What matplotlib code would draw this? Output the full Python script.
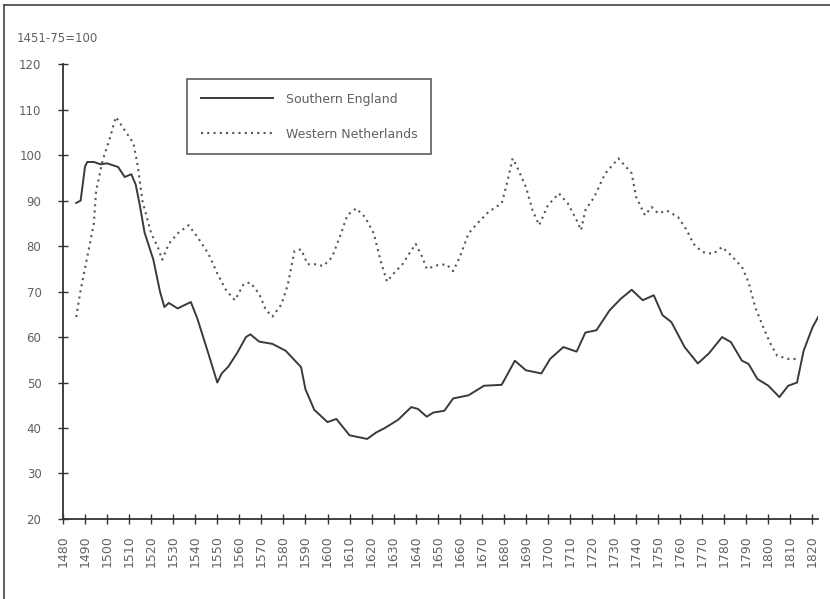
import matplotlib
matplotlib.use('Agg')
import matplotlib.pyplot as plt
from matplotlib.lines import Line2D

plt.rcParams['font.family'] = ['DejaVu Sans']

years_england = [1486, 1488, 1490, 1491, 1494, 1497, 1500, 1505, 1508, 1511,
                 1513, 1515, 1517, 1521, 1524, 1526, 1528, 1532, 1538, 1541,
                 1546, 1550, 1552, 1555, 1559, 1563, 1565, 1569, 1575, 1581,
                 1588, 1590, 1594, 1600, 1604, 1610, 1614, 1618, 1622, 1626,
                 1632, 1638, 1641, 1645, 1648, 1653, 1657, 1660, 1664, 1671,
                 1679, 1685, 1690, 1697, 1701, 1707, 1713, 1717, 1722, 1728,
                 1733, 1738, 1743, 1748, 1752, 1756, 1762, 1768, 1773, 1779,
                 1783, 1788, 1791, 1795, 1800, 1805, 1809, 1813, 1816, 1820,
                 1823]
wage_england = [89.5, 90.0, 97.5, 98.5, 98.5, 98.0, 98.2, 97.4, 95.2, 95.8,
                93.5, 88.6, 83.0, 77.0, 70.0, 66.6, 67.5, 66.3, 67.7, 64.0,
                56.3, 50.0, 52.0, 53.5, 56.5, 60.0, 60.6, 59.0, 58.5, 57.0,
                53.4, 48.5, 44.0, 41.3, 42.0, 38.4, 38.0, 37.6, 39.0, 40.0,
                41.8, 44.6, 44.2, 42.5, 43.4, 43.8, 46.5, 46.8, 47.2, 49.3,
                49.5, 54.8, 52.7, 52.0, 55.2, 57.8, 56.8, 61.0, 61.5, 65.9,
                68.4, 70.4, 68.1, 69.2, 64.8, 63.3, 57.8, 54.2, 56.4, 60.0,
                58.9, 54.8, 54.1, 50.8, 49.3, 46.8, 49.3, 50.0, 57.0, 62.1,
                64.8]

years_netherlands = [1486, 1488, 1491, 1494, 1495, 1498, 1501, 1504, 1507, 1512,
                     1514, 1516, 1520, 1523, 1525, 1528, 1532, 1537, 1541, 1546,
                     1550, 1554, 1558, 1562, 1565, 1569, 1572, 1575, 1579, 1582,
                     1585, 1588, 1591, 1595, 1598, 1602, 1606, 1609, 1613, 1617,
                     1621, 1624, 1627, 1630, 1634, 1637, 1640, 1643, 1645, 1650,
                     1654, 1657, 1660, 1664, 1668, 1673, 1679, 1681, 1684, 1686,
                     1690, 1693, 1696, 1700, 1705, 1709, 1713, 1715, 1717, 1721,
                     1726, 1730, 1732, 1738, 1740, 1744, 1747, 1750, 1754, 1759,
                     1763, 1766, 1770, 1775, 1779, 1783, 1788, 1791, 1794, 1798,
                     1801, 1804, 1809, 1813]
wage_netherlands = [64.4, 70.3, 77.6, 85.0, 92.0, 98.9, 103.3, 108.4, 106.2, 102.6,
                    97.4, 90.0, 82.8, 79.8, 77.0, 80.5, 82.8, 84.6, 82.0, 78.3,
                    74.0, 70.3, 68.1, 71.7, 72.0, 69.5, 66.0, 64.5, 67.1, 71.5,
                    78.9, 79.3, 76.0, 76.0, 75.6, 77.5, 82.6, 86.8, 88.3, 86.4,
                    82.8, 76.9, 72.2, 74.0, 76.0, 78.3, 80.5, 77.6, 75.0, 75.8,
                    76.0, 74.5, 77.6, 82.8, 85.0, 87.5, 89.4, 93.0, 99.3, 97.4,
                    93.0, 87.9, 84.6, 89.0, 91.6, 89.4, 85.7, 83.5, 87.9, 90.8,
                    96.0, 98.2, 99.3, 96.0, 90.8, 86.8, 88.6, 87.2, 87.8, 86.4,
                    83.5, 80.5, 78.7, 78.3, 79.8, 78.0, 75.4, 72.1, 66.6, 61.8,
                    58.5, 55.9, 55.2, 55.2]

year_ticks = list(range(1480, 1821, 10))
value_ticks = list(range(20, 121, 10))

text_color = '#606060'
axis_color = '#333333'

fig = plt.figure(figsize=(8.3, 5.99), dpi=100)
ax = fig.add_axes([0.0759, 0.1336, 0.9096, 0.7592])

ax.plot(years_england, wage_england, color='#3a3a3a', lw=1.4,
        label='Southern England')
ax.plot(years_netherlands, wage_netherlands, color='#555555', lw=1.5,
        linestyle=(0, (1, 2)), label='Western Netherlands')

ax.set_xlim(1480, 1822.5)
ax.set_ylim(20, 120)
ax.set_xticks(year_ticks)
ax.set_xticklabels([str(y) for y in year_ticks], rotation=90)
ax.set_yticks(value_ticks)

for side in ['top', 'right']:
    ax.spines[side].set_visible(False)
for side in ['left', 'bottom']:
    ax.spines[side].set_color(axis_color)
    ax.spines[side].set_linewidth(1.3)

ax.tick_params(axis='both', direction='inout', length=7, width=1.0,
               color=axis_color, labelcolor=text_color, labelsize=8.5)
ax.tick_params(axis='x', pad=8, labelsize=9)
ax.tick_params(axis='y', pad=12)

fig.text(17 / 830, 1 - 38 / 599, '1451-75=100', fontsize=8.5,
         color=text_color, va='center', ha='left')

leg = ax.legend(loc='upper left', bbox_to_anchor=(187 / 830, 1 - 79 / 599),
                bbox_transform=fig.transFigure, fontsize=9, frameon=True,
                fancybox=False, handlelength=5.8, handletextpad=1.0,
                labelspacing=1.75, borderpad=1.1, borderaxespad=0)
leg.get_frame().set_edgecolor(axis_color)
leg.get_frame().set_linewidth(1.2)
for t in leg.get_texts():
    t.set_color(text_color)

# frame lines along the top and left edge of the picture
fig.add_artist(Line2D([4 / 830, 1.0], [1 - 5 / 599, 1 - 5 / 599],
                      transform=fig.transFigure, color='#444444', lw=1.2))
fig.add_artist(Line2D([4 / 830, 4 / 830], [0.0, 1 - 5 / 599],
                      transform=fig.transFigure, color='#444444', lw=1.2))

fig.savefig('out.png', dpi=100)
